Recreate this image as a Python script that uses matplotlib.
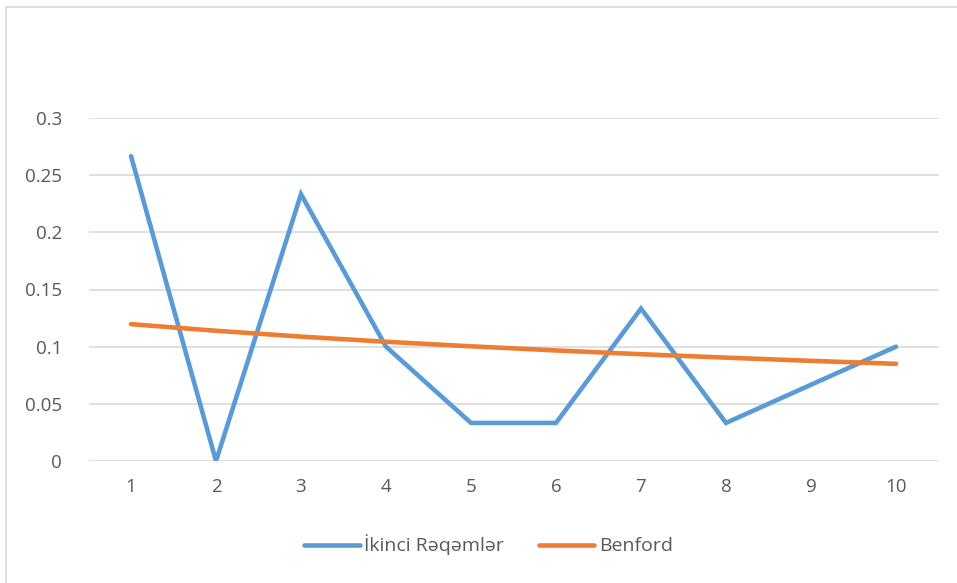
import matplotlib.pyplot as plt
from matplotlib.patches import Rectangle
from matplotlib.lines import Line2D

# second-digit frequencies vs Benford's expected distribution
categories = ['1', '2', '3', '4', '5', '6', '7', '8', '9', '10']
ikinci = [0.2667, 0.0, 0.2333, 0.1, 0.0333, 0.0333, 0.1333, 0.0333, 0.0667, 0.1]
benford = [0.1197, 0.1139, 0.1088, 0.1043, 0.1003, 0.0967, 0.0934, 0.0904, 0.0876, 0.085]
yticks = [0, 0.05, 0.1, 0.15, 0.2, 0.25, 0.3]
ytick_labels = ['0', '0.05', '0.1', '0.15', '0.2', '0.25', '0.3']

W, H = 957, 583
blue = '#5B9BD5'
orange = '#ED7D31'
txt = '#595959'
grid = '#D9D9D9'
fs = 13.5

plt.rcParams['font.family'] = ['Open Sans', 'DejaVu Sans']

fig = plt.figure(figsize=(W / 100, H / 100), dpi=100)
fig.patches.append(Rectangle((6 / W, -0.05), 1.0, 1 - 7.5 / H + 0.05,
                             transform=fig.transFigure, fill=False,
                             edgecolor='#D9D9D9', linewidth=1.2))

left, right, top, bottom = 88.5, 938.5, 118, 461
ax = fig.add_axes([left / W, 1 - bottom / H, (right - left) / W, (bottom - top) / H])

x = range(len(categories))
ax.plot(x, ikinci, color=blue, linewidth=3.3, solid_capstyle='round', solid_joinstyle='miter', zorder=3)
ax.plot(x, benford, color=orange, linewidth=3.3, solid_capstyle='round', zorder=4)

ax.set_xlim(-0.5, len(categories) - 0.5)
ax.set_ylim(0, 0.3)
ax.set_yticks(yticks)
ax.set_yticklabels(ytick_labels)
ax.set_xticks(list(x))
ax.set_xticklabels(categories)
ax.grid(axis='y', color=grid, linewidth=1.2)
ax.set_axisbelow(True)
for s in ax.spines.values():
    s.set_visible(False)
ax.tick_params(length=0, labelsize=fs, labelcolor=txt)
ax.tick_params(axis='y', pad=19)
ax.tick_params(axis='x', pad=12)

handles = [Line2D([], [], color=blue, linewidth=3.3, solid_capstyle='round'),
           Line2D([], [], color=orange, linewidth=3.3, solid_capstyle='round')]
fig.legend(handles, ['İkinci Rəqəmlər', 'Benford'], loc='center',
           bbox_to_anchor=(488.5 / W, 1 - 545 / H), ncol=2,
           frameon=False, fontsize=14, labelcolor=txt, handlelength=2.85,
           handletextpad=0.22, columnspacing=1.8, borderpad=0)

fig.savefig('out.png', dpi=100)
